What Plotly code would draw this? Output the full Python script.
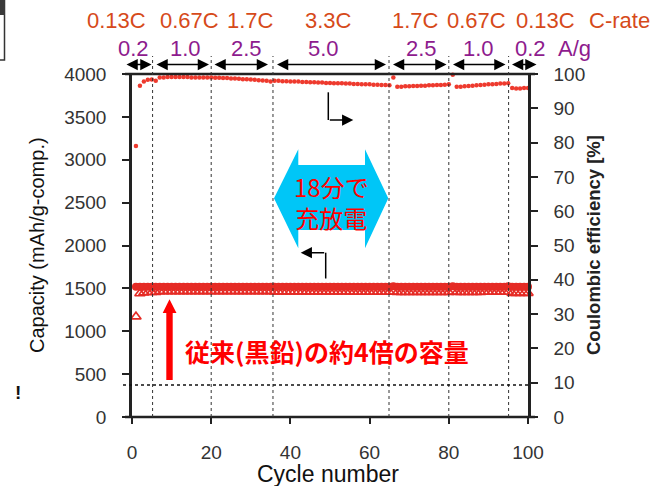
import plotly.graph_objects as go

# ---------------- data ----------------
cycles = list(range(1, 101))

# Coulombic efficiency [%] (right axis)
ce = [79.0,
      96.6, 97.8, 98.3, 98.4, 98.0,
      99.0, 99.0, 99.1, 99.1, 99.1, 99.1, 99.1, 99.1, 99.0, 99.0, 99.0, 99.0, 99.0, 99.0,
      98.9, 98.9, 98.8, 98.8, 98.7, 98.7, 98.6, 98.5, 98.5, 98.4, 98.3, 98.2, 98.1, 98.0, 97.8,
      98.0, 98.0, 97.9, 97.9, 97.8, 97.8, 97.8, 97.7, 97.7, 97.6, 97.6, 97.5, 97.5, 97.4, 97.4,
      97.3, 97.3, 97.3, 97.2, 97.2, 97.1, 97.1, 97.0, 97.0, 97.0, 96.9, 96.9, 96.8, 96.8, 96.7,
      99.0,
      96.3, 96.3, 96.4, 96.4, 96.5, 96.5, 96.6, 96.6, 96.7, 96.7, 96.8, 96.8, 96.9, 97.0,
      99.8,
      96.3, 96.3, 96.4, 96.5, 96.6, 96.7, 96.8, 96.9, 97.0, 97.0, 97.1, 97.2, 97.2, 97.3,
      95.9, 95.8, 95.8, 95.9, 95.9]

# charge capacity (filled circles), mAh/g-comp.
charge_cap = [1520, 1520, 1520, 1520, 1520, 1520, 1520, 1520, 1520, 1520,
              1520, 1520, 1520, 1520, 1520, 1520, 1520, 1520, 1520, 1520,
              1520, 1520, 1520, 1520, 1520, 1520, 1520, 1520, 1520, 1520,
              1520, 1520, 1520, 1520, 1520, 1520, 1520, 1520, 1520, 1520,
              1520, 1520, 1520, 1520, 1520, 1520, 1520, 1520, 1520, 1520,
              1520, 1520, 1520, 1520, 1520, 1520, 1520, 1520, 1520, 1520,
              1520, 1520, 1520, 1520, 1520, 1525, 1520, 1520, 1520, 1520,
              1520, 1520, 1520, 1520, 1520, 1520, 1520, 1520, 1520, 1520,
              1525, 1520, 1520, 1520, 1520, 1520, 1520, 1520, 1520, 1520,
              1520, 1520, 1520, 1520, 1525, 1520, 1520, 1520, 1520, 1520]

# discharge capacity (open triangles), mAh/g-comp.
discharge_cap = [1170, 1440, 1450, 1455, 1455, 1455, 1465, 1465, 1465, 1465,
                 1465, 1465, 1465, 1465, 1465, 1465, 1465, 1465, 1465, 1465,
                 1465, 1465, 1465, 1465, 1465, 1465, 1465, 1465, 1465, 1465,
                 1465, 1465, 1465, 1465, 1465, 1462, 1462, 1462, 1462, 1462,
                 1462, 1462, 1462, 1460, 1460, 1460, 1460, 1460, 1460, 1460,
                 1460, 1460, 1460, 1460, 1460, 1458, 1458, 1458, 1458, 1458,
                 1458, 1458, 1458, 1458, 1458, 1460, 1455, 1455, 1455, 1455,
                 1455, 1455, 1455, 1455, 1455, 1455, 1455, 1455, 1455, 1455,
                 1460, 1455, 1455, 1455, 1455, 1455, 1455, 1455, 1458, 1458,
                 1458, 1458, 1458, 1458, 1458, 1445, 1445, 1445, 1445, 1445]

c_rate_labels = ["0.13C", "0.67C", "1.7C", "3.3C", "1.7C", "0.67C", "0.13C", "C-rate"]
current_labels = ["0.2", "1.0", "2.5", "5.0", "2.5", "1.0", "0.2", "A/g"]
segment_bounds = [5.2, 20, 35.6, 64.9, 80, 95.1]
x_ticks = [0, 20, 40, 60, 80, 100]
cap_ticks = [0, 500, 1000, 1500, 2000, 2500, 3000, 3500, 4000]
ce_ticks = [0, 10, 20, 30, 40, 50, 60, 70, 80, 90, 100]
graphite_cap = 372

# ---------------- layout geometry ----------------
W_FIG, H_FIG = 662, 486
L, R, T, B = 132, 528, 74, 417
PW, PH = R - L, B - T


def px(x):
    return (x - L) / PW


def py(y):
    return (B - y) / PH


FONT = "Liberation Sans, Arial, sans-serif"
CJK = "Noto Sans CJK JP, sans-serif"
RED = "#E52B25"
AXC = "#222222"

fig = go.Figure()

fig.add_trace(go.Scatter(
    x=cycles, y=charge_cap, mode="markers", yaxis="y",
    marker=dict(symbol="circle", size=8, color=RED, line=dict(width=0)),
    cliponaxis=False, showlegend=False))
fig.add_trace(go.Scatter(
    x=cycles, y=discharge_cap, mode="markers", yaxis="y",
    marker=dict(symbol="triangle-up-open", size=9, color=RED, line=dict(width=1.6, color=RED)),
    cliponaxis=False, showlegend=False))
fig.add_trace(go.Scatter(
    x=cycles, y=ce, mode="markers", yaxis="y2",
    marker=dict(symbol="circle", size=4.5, color="#EE3A2E", line=dict(width=0)),
    cliponaxis=False, showlegend=False))

shapes = []
# extended top / bottom frame lines
for yy in (0, 1):
    shapes.append(dict(type="line", xref="paper", yref="paper", x0=px(125), x1=px(535),
                       y0=yy, y1=yy, line=dict(color=AXC, width=2.5)))
# segment dotted lines
for b in segment_bounds:
    shapes.append(dict(type="line", xref="paper", yref="paper", x0=b / 100, x1=b / 100,
                       y0=0, y1=py(56), line=dict(color="#333333", width=1, dash="dot")))
# graphite theoretical capacity line
shapes.append(dict(type="line", xref="paper", yref="y", x0=px(123), x1=1,
                   y0=graphite_cap, y1=graphite_cap,
                   line=dict(color="#111111", width=1.5, dash="dot")))
# cyan double arrow
cyan_pts = [(274, 198.3), (298.3, 149.3), (298.3, 165), (365, 165), (365, 149.3),
            (388.3, 198.3), (365, 248.3), (365, 230), (298.3, 230), (298.3, 248.3)]
path = "M " + " L ".join(f"{px(a):.5f},{py(b):.5f}" for a, b in cyan_pts) + " Z"
shapes.append(dict(type="path", xref="paper", yref="paper", path=path,
                   fillcolor="#00C6F7", line=dict(width=0), layer="above"))
# red thick arrow
red_pts = [(166.3, 380), (166.3, 313), (162.7, 313), (169.5, 299.3), (176.5, 313),
           (172.7, 313), (172.7, 380)]
path = "M " + " L ".join(f"{px(a):.5f},{py(b):.5f}" for a, b in red_pts) + " Z"
shapes.append(dict(type="path", xref="paper", yref="paper", path=path,
                   fillcolor="#FF0000", line=dict(width=0), layer="above"))
# L-connectors (vertical parts)
shapes.append(dict(type="line", xref="paper", yref="paper", x0=px(328.3), x1=px(328.3),
                   y0=py(92.3), y1=py(120), line=dict(color="black", width=1.5)))
shapes.append(dict(type="line", xref="paper", yref="paper", x0=px(325.7), x1=px(325.7),
                   y0=py(252.7), y1=py(278.5), line=dict(color="black", width=1.5)))
# cropped box top-left
shapes.append(dict(type="rect", xref="paper", yref="paper", x0=px(-3), x1=px(4.5),
                   y0=py(60), y1=py(0), line=dict(color="#333333", width=1.5),
                   fillcolor="white"))
shapes.append(dict(type="rect", xref="paper", yref="paper", x0=px(-3), x1=px(5),
                   y0=py(15), y1=py(0), line=dict(width=0), fillcolor="#3a3a3a"))

ann = []
crate_x = [116.7, 189.3, 250.7, 328.3, 415, 476, 545, 619.3]
cur_x = [133.3, 185, 246.7, 323.3, 421.7, 478.3, 530.7, 574]
for t, xx in zip(c_rate_labels, crate_x):
    ann.append(dict(text=t, x=px(xx), y=py(20), xref="paper", yref="paper",
                    xanchor="center", yanchor="middle", showarrow=False,
                    font=dict(family=FONT, size=22, color="#D64A1A")))
for t, xx in zip(current_labels, cur_x):
    ann.append(dict(text=t, x=px(xx), y=py(48.3), xref="paper", yref="paper",
                    xanchor="center", yanchor="middle", showarrow=False,
                    font=dict(family=FONT, size=22, color="#8E1B8E")))
# double-headed arrows for segments
seg_px = [(125, 151.5), (155, 209), (213, 268), (275.5, 386), (391.5, 446.5),
          (451.5, 505.5), (510.5, 536.5)]
for a, b in seg_px:
    ann.append(dict(text="", x=px(b), y=py(64.5), xref="paper", yref="paper",
                    ax=-(b - a), ay=0, showarrow=True, arrowhead=2, arrowsize=1.5,
                    arrowwidth=1.5, arrowcolor="black", arrowside="end+start"))
# L-connector arrowheads
ann.append(dict(text="", x=px(353.3), y=py(120), xref="paper", yref="paper",
                ax=-25, ay=0, showarrow=True, arrowhead=2, arrowsize=1.5,
                arrowwidth=1.5, arrowcolor="black"))
ann.append(dict(text="", x=px(300.7), y=py(252.7), xref="paper", yref="paper",
                ax=25, ay=0, showarrow=True, arrowhead=2, arrowsize=1.5,
                arrowwidth=1.5, arrowcolor="black"))
# axis titles
ann.append(dict(text="Capacity (mAh/g-comp.)", x=px(37), y=py(245), xref="paper", yref="paper",
                textangle=-90, showarrow=False, xanchor="center", yanchor="middle",
                font=dict(family=FONT, size=20, color="#111111")))
ann.append(dict(text="<b>Coulombic efficiency [%]</b>", x=px(594), y=py(245), xref="paper",
                yref="paper", textangle=-90, showarrow=False, xanchor="center",
                yanchor="middle", font=dict(family=FONT, size=18.5, color="#222222")))
ann.append(dict(text="Cycle number", x=px(328), y=py(474), xref="paper", yref="paper",
                showarrow=False, xanchor="center", yanchor="middle",
                font=dict(family=FONT, size=23, color="#111111")))
# bubble text
ann.append(dict(text="18分で<br>充放電", x=px(331.7), y=py(202), xref="paper", yref="paper",
                showarrow=False, xanchor="center", yanchor="middle",
                font=dict(family=CJK, size=24, color="#FF0000")))
# red statement
ann.append(dict(text="<b>従来(黒鉛)の約4倍の容量</b>", x=px(326.7), y=py(351), xref="paper",
                yref="paper", showarrow=False, xanchor="center", yanchor="middle",
                font=dict(family=CJK, size=25, color="#FF0000")))
ann.append(dict(text="<b>!</b>", x=px(18), y=py(392), xref="paper", yref="paper",
                showarrow=False, xanchor="center", yanchor="middle",
                font=dict(family=FONT, size=19, color="#111111")))

axis_common = dict(ticks="outside", tickwidth=2, tickcolor=AXC, showgrid=False,
                   zeroline=False, tickfont=dict(family=FONT, size=19, color="#333333"),
                   ticklabelstandoff=12)

fig.update_layout(
    width=W_FIG, height=H_FIG, autosize=False,
    margin=dict(l=L, r=W_FIG - R, t=T, b=H_FIG - B, pad=0),
    paper_bgcolor="white", plot_bgcolor="white",
    showlegend=False,
    xaxis=dict(range=[0, 100], tickvals=x_ticks, ticklen=6, showline=False,
               **axis_common),
    yaxis=dict(range=[0, 4000], tickvals=cap_ticks, ticklen=7, showline=True,
               linewidth=2.5, linecolor=AXC, **axis_common),
    yaxis2=dict(range=[0, 100], tickvals=ce_ticks, ticklen=7, showline=True,
                linewidth=2.5, linecolor=AXC, overlaying="y", side="right",
                **axis_common),
    shapes=shapes,
    annotations=ann,
)

fig.write_html("out.html", config={"displayModeBar": False},
               post_script="document.body.style.margin='0';document.body.style.overflow='hidden';")
